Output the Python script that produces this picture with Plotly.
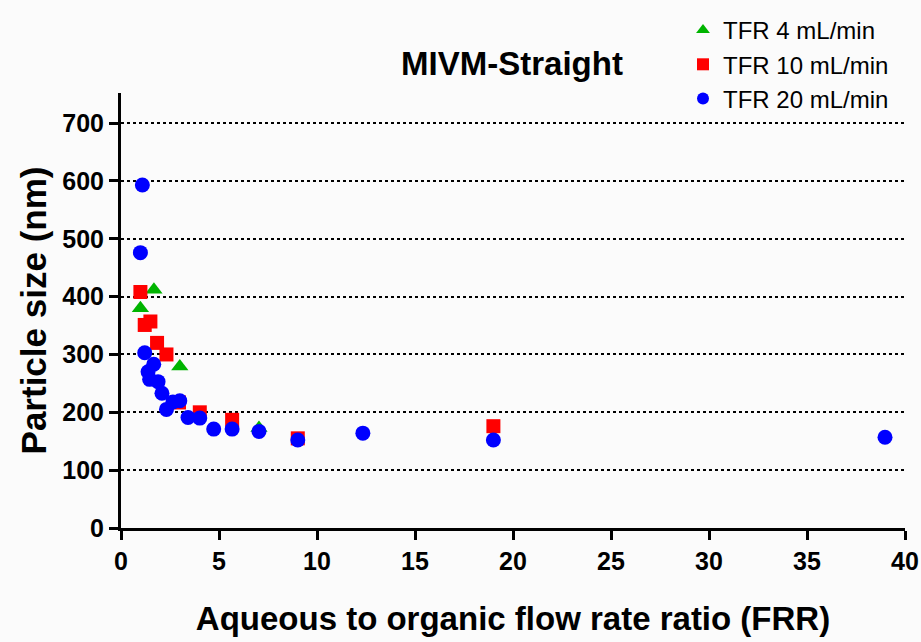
import plotly.graph_objects as go

# TFR 4 mL/min
frr_4 = [0.99, 1.68, 3.0, 7.04]
size_4 = [380, 412, 279, 173]

# TFR 10 mL/min
frr_10 = [0.99, 1.21, 1.50, 1.84, 2.32, 2.96, 4.02, 5.67, 9.02, 19.0]
size_10 = [408, 351, 357, 320, 300, 217, 200, 187, 155, 176]

# TFR 20 mL/min
frr_20 = [1.09, 0.99, 1.21, 1.38, 1.67, 1.46, 1.89, 2.09, 2.32, 2.65, 3.0, 3.42, 4.02, 4.73, 5.67, 7.04, 9.02, 12.34, 19.0, 38.98]
size_20 = [593, 476, 303, 270, 283, 257, 253, 233, 205, 218, 220, 191, 190, 171, 171, 167, 152, 164, 152, 157]

x_ticks = [0, 5, 10, 15, 20, 25, 30, 35, 40]
y_ticks = [0, 100, 200, 300, 400, 500, 600, 700]

FONT = "Liberation Sans, Arial, sans-serif"
BG = "#fbfbfb"

fig = go.Figure()
fig.add_trace(go.Scatter(x=frr_4, y=size_4, mode="markers", name="TFR 4 mL/min",
                         marker=dict(symbol="triangle-up", size=15, color="#00b400")))
fig.add_trace(go.Scatter(x=frr_10, y=size_10, mode="markers", name="TFR 10 mL/min",
                         marker=dict(symbol="square", size=14, color="#ff0000")))
fig.add_trace(go.Scatter(x=frr_20, y=size_20, mode="markers", name="TFR 20 mL/min",
                         marker=dict(symbol="circle", size=15, color="#0000ff")))

fig.update_layout(
    width=921, height=642,
    paper_bgcolor=BG, plot_bgcolor=BG,
    margin=dict(l=121, r=16, t=93, b=114, autoexpand=False),
    font=dict(family=FONT, color="black"),
    title=dict(text="MIVM-Straight", x=512/921, xanchor="center", y=1-63/642, yanchor="middle",
               font=dict(size=33, family=FONT, color="black", weight="bold")),
    legend=dict(x=(683-121)/784, y=(528-8)/435, xanchor="left", yanchor="top", bgcolor="rgba(0,0,0,0)",
                font=dict(size=24, family=FONT), itemsizing="constant"),
    showlegend=True,
    xaxis=dict(range=[0, 40], tickvals=x_ticks, showline=True, linecolor="black", linewidth=3,
               ticks="outside", ticklen=9, tickwidth=3, tickcolor="black", showgrid=False, zeroline=False,
               tickfont=dict(size=25, family=FONT, weight="bold"),
               title=dict(text="Aqueous to organic flow rate ratio (FRR)",
                          font=dict(size=33, family=FONT, weight="bold"), standoff=33)),
    yaxis=dict(range=[0, 752], tickvals=y_ticks, showline=True, linecolor="black", linewidth=3,
               ticks="outside", ticklen=9, tickwidth=3, tickcolor="black", zeroline=False,
               showgrid=True, gridcolor="black", gridwidth=1.5, griddash="dot",
               tickfont=dict(size=25, family=FONT, weight="bold"),
               title=dict(text="Particle size (nm)",
                          font=dict(size=35, family=FONT, weight="bold"), standoff=6)),
)

fig.write_html("out.html", config={"displayModeBar": False},
               post_script="document.body.style.margin='0';document.body.style.background='%s';" % BG)
